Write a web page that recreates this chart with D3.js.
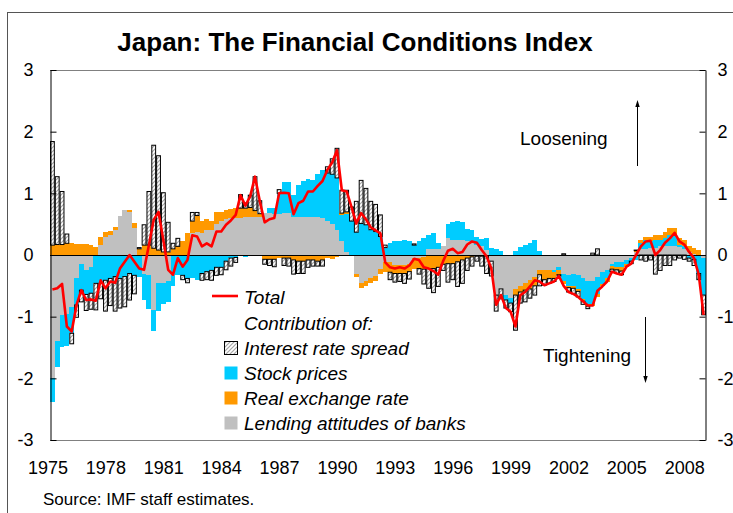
<!DOCTYPE html>
<html>
<head>
<meta charset="utf-8">
<script src="https://cdn.jsdelivr.net/npm/d3@7"></script>
<style>
  body { margin: 0; background: #fff; }
  text { font-family: "Liberation Sans", Arial, sans-serif; fill: #000; }
</style>
</head>
<body>
<svg id="chart" width="733" height="513"></svg>
<script>
// quarterly data, 1975Q1 .. 2008Q4 (two years per row)
const lending = [
  -2.0, -1.4, -0.97, -0.95, -0.84, -0.38, -0.14, -0.24,
  -0.19, 0, 0.16, 0.3, 0.33, 0.4, 0.64, 0.73,
  0.69, 0.43, 0, -0.3, -0.33, -0.89, -0.45, -0.46,
  -0.42, 0, 0, 0, 0, 0.35, 0.38, 0.35,
  0.4, 0.4, 0.51, 0.55, 0.58, 0.6, 0.6, 0.6,
  0.62, 0.62, 0.62, 0.62, 0.68, 0.68, 0.66, 0.66,
  0.68, 0.68, 0.62, 0.62, 0.62, 0.62, 0.62, 0.62,
  0.6, 0.55, 0.51, 0.4, 0.22, 0.05, 0, -0.3,
  -0.46, -0.42, -0.38, -0.34, -0.22, -0.11, -0.11, -0.17,
  -0.17, -0.17, -0.15, -0.05, -0.05, -0.03, 0.1, 0.1,
  0.1, 0.15, 0.27, 0.25, 0.25, 0.24, 0.22, 0.2,
  0.16, 0.14, 0.08, -0.1, -0.65, -0.55, -0.65, -0.7,
  -0.55, -0.5, -0.45, -0.4, -0.35, -0.25, -0.25, -0.25,
  -0.25, -0.2, -0.3, -0.32, -0.3, -0.33, -0.38, -0.42,
  -0.42, -0.36, -0.28, -0.25, -0.15, -0.12, -0.12, -0.08,
  -0.05, 0.05, 0.1, 0.1, 0.12, 0.12, 0.14, 0.14,
  0.15, 0.15, 0.13, 0.1, 0.05, 0.02, 0, -0.05
];
const stock = [
  -0.38, -0.42, -0.52, -0.52, -0.43, -0.43, -0.43, -0.4,
  -0.43, -0.46, -0.46, -0.41, -0.38, -0.35, -0.38, -0.35,
  -0.3, -0.33, -0.36, -0.43, -0.54, -0.35, -0.45, -0.33,
  -0.35, -0.51, -0.32, -0.33, -0.38, -0.37, -0.4, -0.3,
  -0.27, -0.25, -0.2, -0.2, -0.1, -0.05, -0.04, 0,
  -0.04, 0, 0, 0, 0, 0.08, 0.1, 0.34,
  0.5, 0.5, 0.35, 0.52, 0.58, 0.62, 0.6, 0.7,
  0.78, 0.78, 0.8, 0.85, 0.43, 0.62, 0.55, 0.37,
  0.51, 0.49, 0.41, 0.38, 0.3, 0.12, 0.2, 0.22,
  0.23, 0.24, 0.22, 0.16, 0.23, 0.27, 0.22, 0.25,
  0.09, 0, 0.24, 0.28, 0.3, 0.3, 0.2, 0.2,
  0.14, 0.12, 0.2, 0.12, 0.1, 0.06, -0.08, -0.08,
  0.06, 0.13, 0.16, 0.19, 0.24, 0.07, 0, 0,
  -0.03, -0.05, -0.12, -0.18, -0.2, -0.22, -0.33, -0.37,
  -0.37, -0.28, -0.19, -0.13, -0.03, -0.08, -0.08, -0.07,
  -0.05, -0.08, 0.1, 0.14, 0.1, 0.12, 0.1, 0.13,
  0.17, 0.16, 0.04, 0.04, -0.05, -0.07, -0.3, -0.6
];
const exchange = [
  0.16, 0.17, 0.17, 0.19, 0.2, 0.18, 0.18, 0.18,
  0.16, 0.13, 0.14, 0.07, 0.06, 0.06, 0, 0,
  0.04, 0.09, 0.1, 0.16, 0.16, 0.11, 0.08, 0.05,
  0.05, 0.1, 0.14, 0.22, 0.36, 0.2, 0.26, 0.2,
  0.18, 0.15, 0.19, 0.15, 0.15, 0.14, 0.17, 0.16,
  0.14, 0.15, 0.1, 0.05, -0.07, -0.07, -0.07, -0.05,
  -0.05, -0.05, -0.08, -0.1, -0.1, -0.08, -0.08, -0.1,
  -0.08, -0.05, -0.06, -0.03, 0.03, 0.03, 0, -0.06,
  -0.07, -0.08, -0.07, -0.08, -0.08, -0.17, -0.17, -0.13,
  -0.13, -0.13, -0.12, -0.17, -0.17, -0.2, -0.22, -0.22,
  -0.2, -0.15, -0.14, -0.14, -0.11, -0.08, -0.05, -0.03,
  -0.02, -0.02, -0.02, 0, 0, 0, 0, 0,
  -0.1, -0.1, -0.12, -0.15, -0.15, -0.07, -0.15, -0.13,
  -0.1, -0.07, -0.05, -0.03, -0.04, -0.04, -0.04, -0.04,
  -0.04, -0.04, -0.04, -0.05, -0.05, -0.04, -0.06, -0.04,
  0, 0.02, 0.05, 0.06, 0.08, 0.08, 0.08, 0.1,
  0.12, 0.13, 0.1, 0.1, 0.1, 0.1, 0.08, 0
];
const spread = [
  1.68, 1.1, 0.86, 0.15, -0.17, -0.2, -0.19, -0.26,
  -0.26, -0.43, -0.25, -0.5, -0.44, -0.56, -0.48, -0.49,
  -0.43, -0.3, 0.02, 0.33, 0.87, 1.67, 1.53, 0.96,
  0.48, 0.09, 0.13, -0.07, -0.07, 0.14, 0.05, -0.11,
  -0.13, -0.16, -0.13, -0.12, -0.14, -0.13, -0.08, 0.22,
  0.08, 0.2, 0.55, 0.21, -0.08, -0.1, -0.12, 0.06,
  -0.12, -0.13, -0.23, -0.2, -0.2, -0.12, -0.1, -0.08,
  -0.1, 0.1, 0.25, 0.48, 0.37, 0.35, 0.23, 0.5,
  0.7, 0.59, 0.46, 0.44, 0.35, 0.04, -0.12, -0.14,
  -0.13, -0.16, -0.12, 0.02, -0.09, -0.24, -0.32, -0.39,
  -0.31, -0.1, -0.3, -0.26, -0.4, -0.38, -0.2, -0.15,
  -0.08, -0.16, -0.28, -0.24, -0.26, -0.16, -0.13, -0.14,
  -0.57, -0.18, -0.19, -0.15, -0.15, -0.18, -0.09, -0.08,
  -0.05, -0.02, 0.02, -0.07, -0.09, -0.09, -0.05, -0.04,
  0.03, 0.1, 0, 0, -0.04, -0.06, -0.06, 0,
  -0.04, 0.01, -0.08, -0.1, -0.08, -0.31, -0.25, -0.17,
  -0.17, -0.08, -0.05, -0.07, -0.05, -0.1, -0.1, -0.32
];
const total = [
  -0.56, -0.54, -0.47, -1.16, -1.24, -0.81, -0.57, -0.73,
  -0.72, -0.74, -0.41, -0.54, -0.43, -0.45, -0.22, -0.11,
  0, -0.11, -0.22, -0.24, 0.16, 0.57, 0.7, 0.24,
  -0.24, -0.32, -0.05, -0.19, -0.08, 0.32, 0.3, 0.14,
  0.19, 0.14, 0.38, 0.38, 0.49, 0.56, 0.65, 0.97,
  0.8, 0.95, 1.27, 0.87, 0.53, 0.58, 0.6, 1.0,
  1.01, 1.0, 0.66, 0.84, 0.88, 1.03, 1.03, 1.12,
  1.2, 1.38, 1.5, 1.7, 1.05, 1.03, 0.78, 0.51,
  0.68, 0.58, 0.45, 0.4, 0.35, -0.12, -0.2, -0.22,
  -0.2, -0.22, -0.17, -0.06, -0.08, -0.2, -0.22, -0.26,
  -0.32, -0.1, 0.07, 0.1, 0.03, 0.05, 0.17, 0.22,
  0.2, 0.08, -0.02, -0.22, -0.81, -0.65, -0.86, -0.92,
  -1.16, -0.65, -0.6, -0.51, -0.41, -0.43, -0.49, -0.46,
  -0.43, -0.34, -0.5, -0.6, -0.63, -0.68, -0.75, -0.82,
  -0.82, -0.58, -0.51, -0.43, -0.27, -0.3, -0.32, -0.19,
  -0.14, 0, 0.14, 0.22, 0.23, 0, 0.08, 0.2,
  0.27, 0.36, 0.22, 0.17, 0.05, -0.05, -0.32, -0.97
];
const yTicks = [-3, -2, -1, 0, 1, 2, 3];
const xLabelYears = [1975, 1978, 1981, 1984, 1987, 1990, 1993, 1996, 1999, 2002, 2005, 2008];
const seriesNames = ["Interest rate spread", "Stock prices", "Real exchange rate", "Lending attitudes of banks"];

const quarters = [];
for (let yr = 1975; yr <= 2008; yr++) for (let q = 1; q <= 4; q++) quarters.push(yr + "Q" + q);

const svg = d3.select("#chart");
const plot = { left: 50, right: 706, top: 70, bottom: 440 };

const x = d3.scaleBand().domain(quarters).range([plot.left, plot.right]).padding(0);
const y = d3.scaleLinear().domain([-3, 3]).range([plot.bottom, plot.top]);

// hatch for the interest rate series
const defs = svg.append("defs");
const pat = defs.append("pattern")
  .attr("id", "hatch").attr("patternUnits", "userSpaceOnUse")
  .attr("width", 4).attr("height", 4);
pat.append("rect").attr("width", 4).attr("height", 4).attr("fill", "#fff");
pat.append("path").attr("d", "M-1,1 l2,-2 M0,4 l4,-4 M3,5 l2,-2")
  .attr("stroke", "#a6a6a6").attr("stroke-width", 1.2);

// outer frame
svg.append("rect").attr("x", 7.5).attr("y", 12.5).attr("width", 740).attr("height", 520)
  .attr("fill", "none").attr("stroke", "#555");

svg.append("text").attr("x", 355).attr("y", 51).attr("text-anchor", "middle")
  .style("font-size", "26px").style("font-weight", "bold")
  .text("Japan: The Financial Conditions Index");

const rows = quarters.map((q, k) => ({
  q: q, lend: lending[k], stock: stock[k], exch: exchange[k], spread: spread[k]
}));
const keys = ["lend", "stock", "exch", "spread"];
const fills = { lend: "#c0c0c0", stock: "#00ccff", exch: "#ff9900", spread: "url(#hatch)" };
const stacked = d3.stack().keys(keys).offset(d3.stackOffsetDiverging)(rows);

stacked.forEach(layer => {
  const isSpread = layer.key === "spread";
  svg.append("g")
    .selectAll("rect")
    .data(layer.filter(d => d[1] !== d[0]))
    .join("rect")
    .attr("x", d => x(d.data.q) + (isSpread ? 0.5 : 0))
    .attr("width", x.bandwidth() - (isSpread ? 1 : 0))
    .attr("y", d => y(d[1]))
    .attr("height", d => y(d[0]) - y(d[1]))
    .attr("fill", fills[layer.key])
    .attr("stroke", isSpread ? "#000" : "none")
    .attr("stroke-width", isSpread ? 1 : 0)
    .attr("shape-rendering", isSpread ? "auto" : "crispEdges");
});

// plot frame and axes
svg.append("line").attr("x1", plot.left).attr("x2", plot.right).attr("y1", plot.top + 0.5).attr("y2", plot.top + 0.5)
  .attr("stroke", "#808080");
svg.append("line").attr("x1", plot.left).attr("x2", plot.right).attr("y1", plot.bottom + 0.5).attr("y2", plot.bottom + 0.5)
  .attr("stroke", "#808080");
svg.append("line").attr("x1", plot.left).attr("x2", plot.right).attr("y1", y(0) + 0.5).attr("y2", y(0) + 0.5)
  .attr("stroke", "#000");

const fmt = d => String(d);
const axL = d3.axisLeft(y).tickValues(yTicks).tickSizeInner(-6).tickSizeOuter(0).tickPadding(17).tickFormat(fmt);
const gL = svg.append("g").attr("transform", `translate(${plot.left + 0.5},0)`).call(axL);
const axR = d3.axisRight(y).tickValues(yTicks).tickSizeInner(-6).tickSizeOuter(0).tickPadding(12).tickFormat(fmt);
const gR = svg.append("g").attr("transform", `translate(${plot.right - 0.5},0)`).call(axR);
[gL, gR].forEach(g => {
  g.select(".domain").attr("stroke", "#000");
  g.selectAll("line").attr("stroke", "#000");
  g.selectAll("text").style("font-size", "18px").attr("font-family", null);
});

// year labels
svg.append("g").selectAll("text")
  .data(xLabelYears)
  .join("text")
  .attr("x", d => x(d + "Q1") - 2)
  .attr("y", 474)
  .attr("text-anchor", "middle")
  .style("font-size", "18px")
  .text(d => d);

// total line
const line = d3.line()
  .x((d, k) => x(quarters[k]) + x.bandwidth() / 2)
  .y(d => y(d));
svg.append("path").datum(total)
  .attr("d", line)
  .attr("fill", "none").attr("stroke", "#ff0000").attr("stroke-width", 2.6)
  .attr("stroke-linejoin", "round");

// direction notes
svg.append("text").attr("x", 520).attr("y", 145).style("font-size", "19px").text("Loosening");
svg.append("text").attr("x", 543).attr("y", 362).style("font-size", "19px").text("Tightening");
svg.append("line").attr("x1", 637.5).attr("x2", 637.5).attr("y1", 166).attr("y2", 104).attr("stroke", "#000");
svg.append("path").attr("d", "M637.5,100 L635.3,107 L639.7,107 Z").attr("fill", "#000");
svg.append("line").attr("x1", 645.5).attr("x2", 645.5).attr("y1", 317).attr("y2", 379).attr("stroke", "#000");
svg.append("path").attr("d", "M645.5,383 L643.3,376 L647.7,376 Z").attr("fill", "#000");

// legend
const lg = svg.append("g");
lg.append("line").attr("x1", 212).attr("x2", 238).attr("y1", 296).attr("y2", 296)
  .attr("stroke", "#ff0000").attr("stroke-width", 2.6);
lg.append("text").attr("x", 244).attr("y", 304).style("font-size", "19px").style("font-style", "italic").text("Total");
lg.append("text").attr("x", 244).attr("y", 330).style("font-size", "19px").style("font-style", "italic").text("Contribution of:");
const legFills = ["url(#hatch)", "#00ccff", "#ff9900", "#c0c0c0"];
seriesNames.forEach((name, k) => {
  const cy = 348 + k * 25;
  lg.append("rect").attr("x", 224.5).attr("y", cy - 6.5).attr("width", 13).attr("height", 13)
    .attr("fill", legFills[k]).attr("stroke", k === 0 ? "#000" : "none");
  lg.append("text").attr("x", 244).attr("y", cy + 7).style("font-size", "19px").style("font-style", "italic").text(name);
});

svg.append("text").attr("x", 43).attr("y", 505).style("font-size", "17px").text("Source: IMF staff estimates.");
</script>
</body>
</html>
